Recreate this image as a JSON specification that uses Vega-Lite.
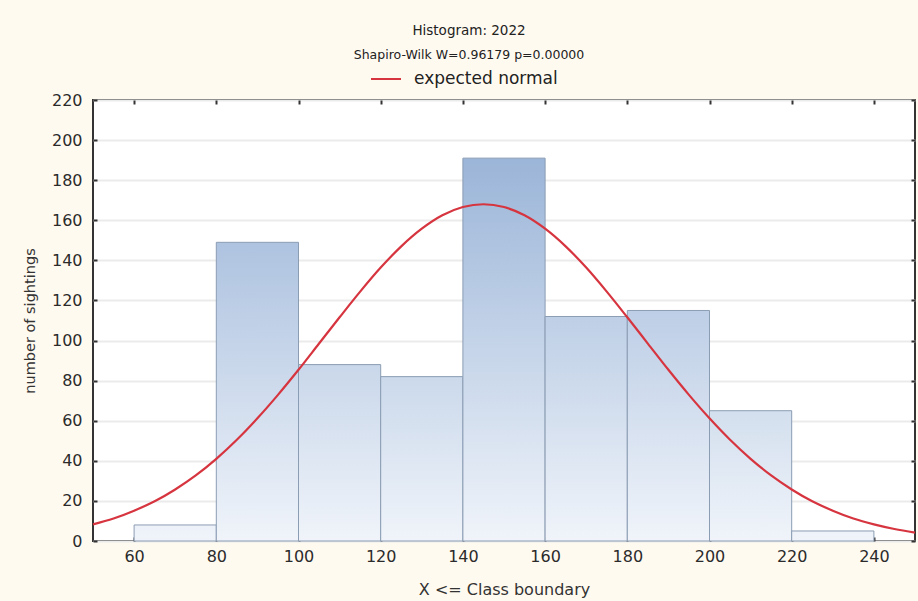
{
  "$schema": "https://vega.github.io/schema/vega-lite/v6.json",
  "width": 822,
  "height": 441,
  "autosize": {"type": "none"},
  "padding": {"left": 93, "top": 100, "right": 3, "bottom": 60},
  "background": "#fffaf0",
  "config": {
    "font": "DejaVu Sans",
    "view": {"fill": "#ffffff", "stroke": "#333333", "strokeWidth": 2},
    "axis": {
      "domain": false,
      "tickColor": "#333333",
      "tickWidth": 2,
      "tickSize": -4,
      "labelFont": "DejaVu Sans",
      "labelFontSize": 16,
      "labelColor": "#2b2b2b",
      "titleFont": "DejaVu Sans",
      "titleFontWeight": "normal",
      "titleColor": "#333333"
    }
  },
  "title": {
    "text": "Histogram: 2022",
    "subtitle": "Shapiro-Wilk W=0.96179 p=0.00000",
    "anchor": "middle",
    "frame": "group",
    "dx": -35,
    "offset": 2,
    "font": "DejaVu Sans",
    "fontSize": 13.5,
    "fontWeight": "normal",
    "color": "#222222",
    "subtitleFont": "DejaVu Sans",
    "subtitleFontSize": 12.5,
    "subtitleColor": "#222222",
    "subtitlePadding": 11
  },
  "datasets": {
    "bins": [
      {"bin_start": 60, "bin_end": 80, "count": 8},
      {"bin_start": 80, "bin_end": 100, "count": 149},
      {"bin_start": 100, "bin_end": 120, "count": 88},
      {"bin_start": 120, "bin_end": 140, "count": 82},
      {"bin_start": 140, "bin_end": 160, "count": 191},
      {"bin_start": 160, "bin_end": 180, "count": 112},
      {"bin_start": 180, "bin_end": 200, "count": 115},
      {"bin_start": 200, "bin_end": 220, "count": 65},
      {"bin_start": 220, "bin_end": 240, "count": 5}
    ],
    "normal": [
      {"x": 50, "y": 8.3}, {"x": 55, "y": 11.2}, {"x": 60, "y": 15.1}, {"x": 65, "y": 19.8},
      {"x": 70, "y": 25.7}, {"x": 75, "y": 32.7}, {"x": 80, "y": 41.0}, {"x": 85, "y": 50.5},
      {"x": 90, "y": 61.2}, {"x": 95, "y": 72.9}, {"x": 100, "y": 85.4}, {"x": 105, "y": 98.5},
      {"x": 110, "y": 111.6}, {"x": 115, "y": 124.4}, {"x": 120, "y": 136.4}, {"x": 125, "y": 147.0},
      {"x": 130, "y": 155.8}, {"x": 135, "y": 162.5}, {"x": 140, "y": 166.6}, {"x": 145, "y": 168.0},
      {"x": 150, "y": 166.6}, {"x": 155, "y": 162.5}, {"x": 160, "y": 155.8}, {"x": 165, "y": 147.0},
      {"x": 170, "y": 136.4}, {"x": 175, "y": 124.4}, {"x": 180, "y": 111.6}, {"x": 185, "y": 98.5},
      {"x": 190, "y": 85.4}, {"x": 195, "y": 72.9}, {"x": 200, "y": 61.2}, {"x": 205, "y": 50.5},
      {"x": 210, "y": 41.0}, {"x": 215, "y": 32.7}, {"x": 220, "y": 25.7}, {"x": 225, "y": 19.8},
      {"x": 230, "y": 15.1}, {"x": 235, "y": 11.2}, {"x": 240, "y": 8.3}, {"x": 245, "y": 6.0},
      {"x": 250, "y": 4.2}
    ]
  },
  "layer": [
    {
      "data": {"name": "bins"},
      "mark": {"type": "rect", "stroke": "#8b9db3", "strokeWidth": 1},
      "encoding": {
        "x": {
          "field": "bin_start",
          "type": "quantitative",
          "scale": {"domain": [50, 250], "nice": false, "zero": false},
          "axis": {
            "orient": "bottom",
            "values": [60, 80, 100, 120, 140, 160, 180, 200, 220, 240],
            "grid": false,
            "labelPadding": 11,
            "title": "X <= Class boundary",
            "titleFontSize": 16,
            "titlePadding": 17
          }
        },
        "x2": {"field": "bin_end"},
        "y": {
          "field": "count",
          "type": "quantitative",
          "scale": {"domain": [0, 220], "nice": false},
          "axis": {
            "orient": "left",
            "values": [0, 20, 40, 60, 80, 100, 120, 140, 160, 180, 200, 220],
            "grid": true,
            "gridColor": "#ebebeb",
            "gridWidth": 2,
            "labelPadding": 15,
            "title": "number of sightings",
            "titleFontSize": 14.5,
            "titlePadding": 14
          }
        },
        "y2": {"datum": 0},
        "fill": {
          "condition": [
            {"test": "datum.bin_start === 60", "value": {"gradient": "linear", "x1": 0, "y1": 0, "x2": 0, "y2": 1, "stops": [{"offset": 0, "color": "#ecf1f9"}, {"offset": 1, "color": "#f0f4fa"}]}},
            {"test": "datum.bin_start === 80", "value": {"gradient": "linear", "x1": 0, "y1": 0, "x2": 0, "y2": 1, "stops": [{"offset": 0, "color": "#aec3e0"}, {"offset": 1, "color": "#f0f4fa"}]}},
            {"test": "datum.bin_start === 100", "value": {"gradient": "linear", "x1": 0, "y1": 0, "x2": 0, "y2": 1, "stops": [{"offset": 0, "color": "#c9d7ea"}, {"offset": 1, "color": "#f0f4fa"}]}},
            {"test": "datum.bin_start === 120", "value": {"gradient": "linear", "x1": 0, "y1": 0, "x2": 0, "y2": 1, "stops": [{"offset": 0, "color": "#cbd9eb"}, {"offset": 1, "color": "#f0f4fa"}]}},
            {"test": "datum.bin_start === 140", "value": {"gradient": "linear", "x1": 0, "y1": 0, "x2": 0, "y2": 1, "stops": [{"offset": 0, "color": "#9bb5d8"}, {"offset": 1, "color": "#f0f4fa"}]}},
            {"test": "datum.bin_start === 160", "value": {"gradient": "linear", "x1": 0, "y1": 0, "x2": 0, "y2": 1, "stops": [{"offset": 0, "color": "#becfe6"}, {"offset": 1, "color": "#f0f4fa"}]}},
            {"test": "datum.bin_start === 180", "value": {"gradient": "linear", "x1": 0, "y1": 0, "x2": 0, "y2": 1, "stops": [{"offset": 0, "color": "#bdcee6"}, {"offset": 1, "color": "#f0f4fa"}]}},
            {"test": "datum.bin_start === 200", "value": {"gradient": "linear", "x1": 0, "y1": 0, "x2": 0, "y2": 1, "stops": [{"offset": 0, "color": "#d3dfee"}, {"offset": 1, "color": "#f0f4fa"}]}}
          ],
          "value": {"gradient": "linear", "x1": 0, "y1": 0, "x2": 0, "y2": 1, "stops": [{"offset": 0, "color": "#eef2f9"}, {"offset": 1, "color": "#f0f4fa"}]}
        }
      }
    },
    {
      "data": {"name": "normal"},
      "mark": {"type": "line", "strokeWidth": 2.2, "interpolate": "monotone"},
      "encoding": {
        "x": {
          "field": "x",
          "type": "quantitative",
          "axis": {
            "orient": "top",
            "values": [60, 80, 100, 120, 140, 160, 180, 200, 220, 240],
            "labels": false,
            "grid": false,
            "title": null
          }
        },
        "y": {
          "field": "y",
          "type": "quantitative",
          "axis": {
            "orient": "right",
            "values": [0, 20, 40, 60, 80, 100, 120, 140, 160, 180, 200, 220],
            "labels": false,
            "grid": false,
            "title": null
          }
        },
        "color": {
          "datum": "expected normal",
          "type": "nominal",
          "scale": {"range": ["#d6353f"]},
          "legend": {
            "orient": "none",
            "legendX": 277,
            "legendY": -37,
            "title": null,
            "symbolType": "stroke",
            "symbolSize": 900,
            "symbolStrokeWidth": 2,
            "labelFont": "DejaVu Sans",
            "labelFontSize": 17,
            "labelColor": "#222222",
            "labelOffset": 12
          }
        }
      }
    }
  ],
  "resolve": {"axis": {"x": "independent", "y": "independent"}}
}
